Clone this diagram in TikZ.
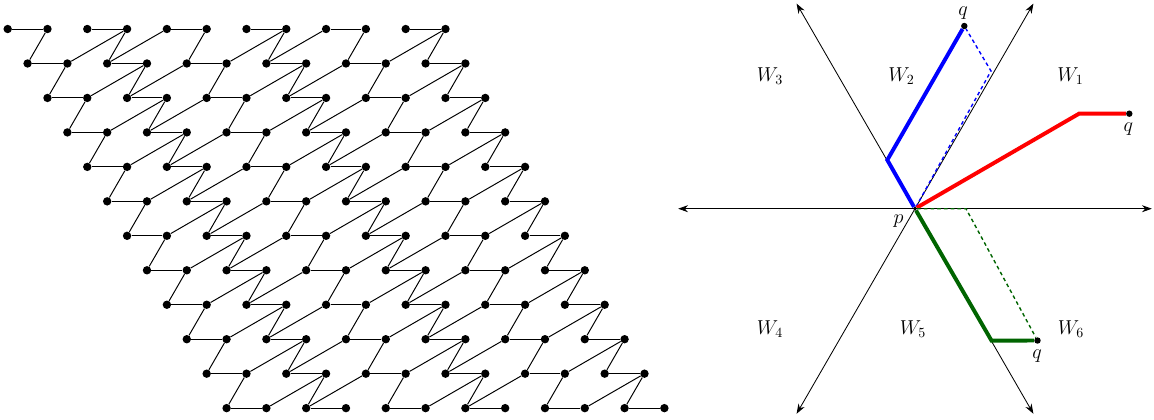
\documentclass[tikz,border=0pt]{standalone}
\usepackage{amsmath,amssymb}
\usepackage{tikz}
\usetikzlibrary{arrows.meta,positioning,calc}
\usepackage{xcolor}

\definecolor{darkgreen}{RGB}{0,100,0}

\tikzset{
  vtx/.style={circle, fill=black, inner sep=0pt, minimum size=6pt},
  qdot/.style={circle, fill=black, inner sep=0pt, minimum size=4.6pt},
  pdot/.style={circle, fill=black, inner sep=0pt, minimum size=2.6pt},
  link/.style={line width=0.7pt},
  axis/.style={line width=0.6pt},
  walk/.style={line width=2.8pt},
  dotpath/.style={line width=1pt, dash pattern=on 2.6pt off 2.2pt},
  lbl/.style={font=\Large}
}

\begin{document}
\begin{tikzpicture}[auto, >={Stealth[length=7pt,width=5pt]}]
\useasboundingbox (0,0) rectangle (28.995,10.528);

  % Define vertices of the lattice
\foreach \j in {0,...,11} {
  \foreach \i in {0,...,11} {
    \node[vtx] (v\i-\j) at ({0.193+\i+0.5*\j},{9.799-0.866*\j}) {};
  }
}

  % Draw edges of the lattice
\foreach \j in {0,...,11} {
  \foreach \k in {0,...,5} {
    \pgfmathtruncatemacro{\a}{2*\k} \pgfmathtruncatemacro{\b}{2*\k+1}
    \draw[link] (v\a-\j) -- (v\b-\j);
  }
}
\foreach \j in {0,...,10} {
  \pgfmathtruncatemacro{\jj}{\j+1}
  \foreach \k in {0,...,5} {
    \pgfmathtruncatemacro{\a}{2*\k} \pgfmathtruncatemacro{\b}{2*\k+1}
    \draw[link] (v\b-\j) -- (v\a-\jj);
  }
}
\foreach \j in {1,...,11} {
  \pgfmathtruncatemacro{\jj}{\j-1}
  \foreach \i in {1,2,5,6,9} {
    \pgfmathtruncatemacro{\ii}{\i+2}
    \draw[link] (v\i-\j) -- (v\ii-\jj);
  }
}

  % Define coordinates for nodes
\node[pdot] (p) at (22.99,5.284) {}; \coordinate (a0) at (28.94,5.284); \coordinate (a60) at (25.965,10.437); \coordinate (a120) at (20.015,10.437); \coordinate (a180) at (17.04,5.284); \coordinate (a240) at (20.015,0.131); \coordinate (a300) at (25.965,0.131);
\coordinate (b1) at (22.294,6.508); \node[qdot] (qb) at (24.229,9.874) {}; \coordinate (d1) at (24.899,8.744);
\coordinate (r1) at (27.111,7.671); \node[qdot] (qr) at (28.374,7.671) {};
\coordinate (g1) at (24.912,1.970); \node[qdot] (qg) at (26.068,1.972) {}; \coordinate (d2) at (24.271,5.284);

  % Draw axes and paths
\draw[axis, <->] (a180) -- (a0); \draw[axis, <->] (a240) -- (a60); \draw[axis, <->] (a120) -- (a300);
\draw[walk, blue] (p) -- (b1) -- (qb); \draw[dotpath, blue] (p) -- (d1) -- (qb);
\draw[walk, red] (p) -- (r1) -- (qr);
\draw[walk, darkgreen] (p) -- (g1) -- (qg); \draw[dotpath, darkgreen] (p) -- (d2) -- (qg);

  % Labels
\node[lbl] (lp) at (22.575,4.975) {$p$}; \node[lbl] (lqb) at (24.196,10.21) {$q$}; \node[lbl] (lqr) at (28.349,7.281) {$q$}; \node[lbl] (lqg) at (26.055,1.570) {$q$};
\node[lbl] (w1) at (26.897,8.62) {$W_1$}; \node[lbl] (w2) at (22.651,8.62) {$W_2$}; \node[lbl] (w3) at (19.347,8.62) {$W_3$};
\node[lbl] (w4) at (19.347,2.26) {$W_4$}; \node[lbl] (w5) at (22.94,2.26) {$W_5$}; \node[lbl] (w6) at (26.91,2.26) {$W_6$};

\end{tikzpicture}
\end{document}
